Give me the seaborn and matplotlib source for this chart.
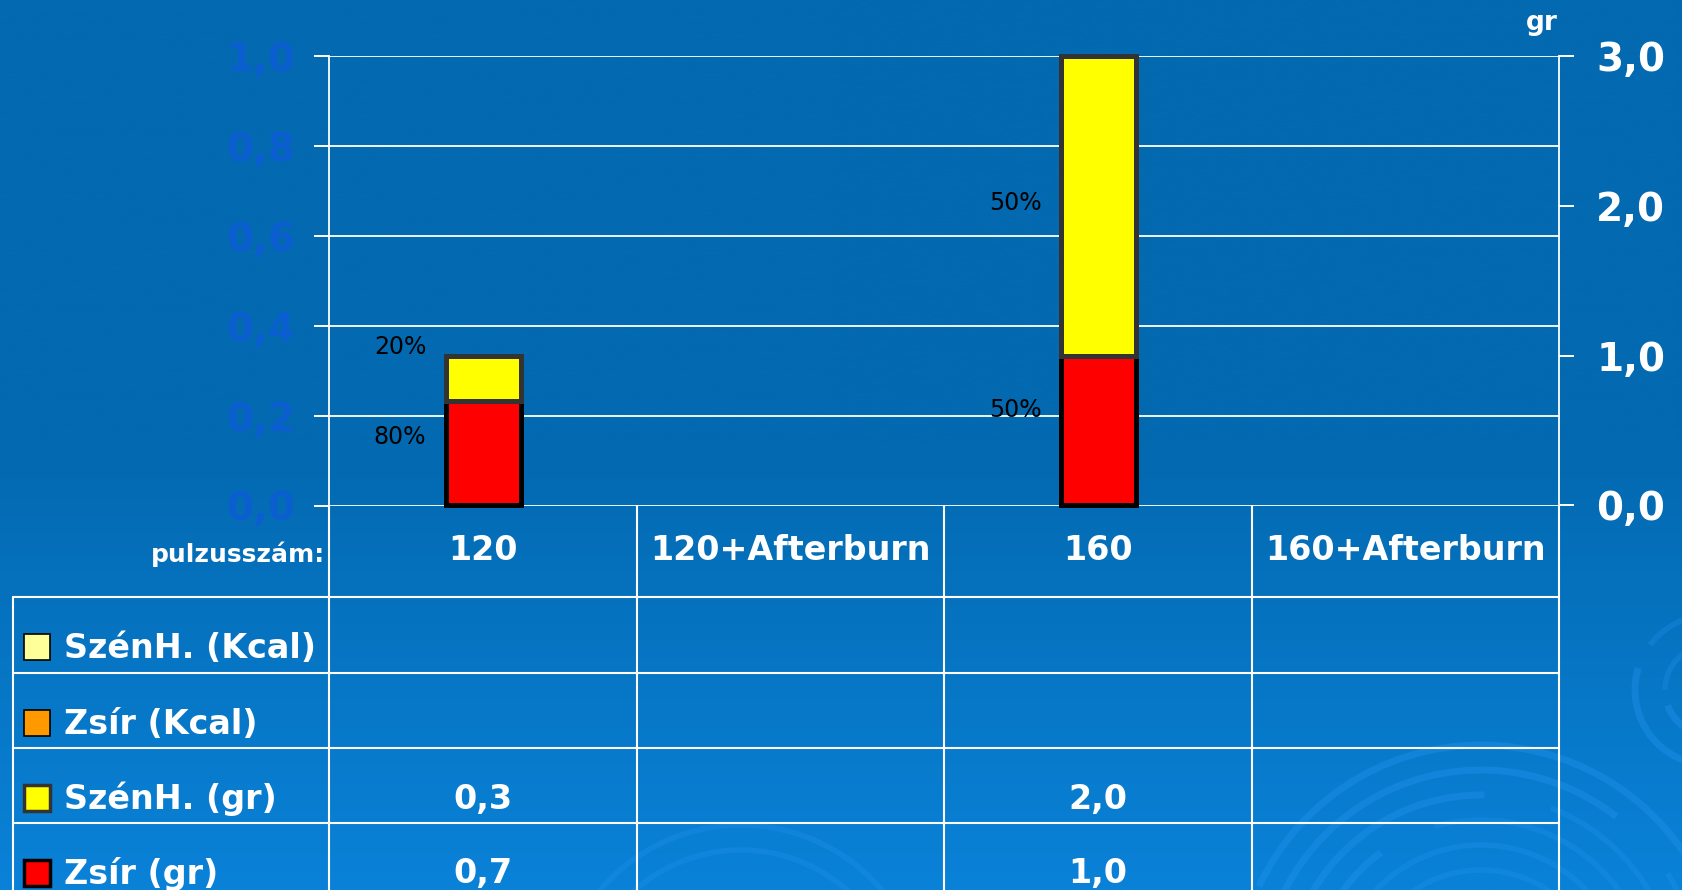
import numpy as np
import pandas as pd
import matplotlib
matplotlib.use("Agg")
import matplotlib.pyplot as plt
from matplotlib.patches import Arc, Rectangle
import seaborn as sns

# data
pulse = ["120", "120+Afterburn", "160", "160+Afterburn"]
fat_gr = [0.7, np.nan, 1.0, np.nan]
carb_gr = [0.3, np.nan, 2.0, np.nan]
fat_pct = ["80%", "", "50%", ""]
carb_pct = ["20%", "", "50%", ""]
fat_pct_y = [0.46, np.nan, 0.64, np.nan]      # where the % labels sit (gr)
carb_pct_y = [1.06, np.nan, 2.02, np.nan]
left_ticks = [0.0, 0.2, 0.4, 0.6, 0.8, 1.0]
right_ticks = [0.0, 1.0, 2.0, 3.0]
row_labels = ["SzénH. (Kcal)", "Zsír (Kcal)", "SzénH. (gr)", "Zsír (gr)"]
row_colors = ["#ffff99", "#ff9900", "#ffff00", "#ff0000"]
row_edges = ["#000000", "#000000", "#333333", "#000000"]

def fmt(v):
    return "" if pd.isna(v) else f"{v:.1f}".replace(".", ",")

row_values = [["", "", "", ""], ["", "", "", ""],
              [fmt(v) for v in carb_gr], [fmt(v) for v in fat_gr]]

df = pd.DataFrame({"pulzus": pulse, "zsir": fat_gr, "szenh": carb_gr})

sns.set_style("white")
plt.rcParams["font.family"] = ["DejaVu Sans"]

W, H = 1683, 890
fig = plt.figure(figsize=(W / 100, H / 100), dpi=100)

# background: blue gradient with faint swirls, also used for the table
bg = fig.add_axes([0, 0, 1, 1])
top = np.array([0x03, 0x69, 0xb0]) / 255
bot = np.array([0x0a, 0x82, 0xd8]) / 255
t = np.clip((np.linspace(0, 1, 400) - 0.5) / 0.5, 0, 1)[:, None]
grad = top * (1 - t) + bot * t
bg.imshow(grad[:, None, :], extent=(0, W, H, 0), aspect="auto")
bg.set_xlim(0, W)
bg.set_ylim(H, 0)
bg.axis("off")

swirl = "#2293ee"
for cx, cy, rads in [(1481, 990, [120, 145, 170, 195, 220, 245]),
                     (741, 1010, [160, 185]),
                     (1710, 690, [45, 75])]:
    for k, r in enumerate(rads):
        t1 = 20 + 37 * k
        bg.add_patch(Arc((cx, cy), 2 * r, 2 * r, theta1=t1, theta2=t1 + 140,
                         color=swirl, lw=5, alpha=0.4))
        bg.add_patch(Arc((cx, cy), 2 * r, 2 * r, theta1=t1 + 160, theta2=t1 + 300,
                         color=swirl, lw=4, alpha=0.3))

# plot area
x0, x1, ytop, ybot = 329.5, 1559.5, 55.8, 505.5
ax = fig.add_axes([x0 / W, 1 - ybot / H, (x1 - x0) / W, (ybot - ytop) / H])
ax.patch.set_alpha(0)
ax.set_ylim(0, 1.0)
ax.set_yticks(left_ticks)
ax.set_yticklabels([f"{v:.1f}".replace(".", ",") for v in left_ticks])
ax.tick_params(axis="y", left=True, length=10.5, width=1.4, color="white",
               pad=14, labelsize=28, labelcolor="#0b5ed0")
for lab in ax.get_yticklabels():
    lab.set_fontweight("bold")
ax.grid(axis="y", color="white", lw=1.3)
ax.set_axisbelow(True)
for s in ["top", "right", "bottom"]:
    ax.spines[s].set_visible(False)
ax.spines["left"].set_color("white")
ax.spines["left"].set_linewidth(1.3)

ax2 = ax.twinx()
ax2.patch.set_alpha(0)
sns.barplot(data=df, x="pulzus", y="zsir", order=pulse, ax=ax2, color="#ff0000",
            saturation=1, width=0.245, edgecolor="#000000", linewidth=3.6,
            errorbar=None, zorder=3, clip_on=False)
sns.barplot(data=df, x="pulzus", y="szenh", order=pulse, ax=ax2, color="#ffff00",
            saturation=1, width=0.245, edgecolor="#333333", linewidth=3.6,
            errorbar=None, zorder=3, clip_on=False,
            bottom=df["zsir"].dropna().to_numpy())
ax2.set_xlim(-0.5, 3.5)
ax2.set_ylim(0, 3.0)
ax2.set_yticks(right_ticks)
ax2.set_yticklabels([f"{v:.1f}".replace(".", ",") for v in right_ticks])
ax2.tick_params(axis="y", right=True, left=False, length=10.5, width=1.4,
                color="white", pad=16, labelsize=28, labelcolor="white")
for lab in ax2.get_yticklabels():
    lab.set_fontweight("bold")
ax2.set_xlabel("")
ax2.set_ylabel("")
ax2.set_xticks([])
ax.set_xticks([])
for s in ["top", "left", "bottom"]:
    ax2.spines[s].set_visible(False)
ax2.spines["right"].set_color("white")
ax2.spines["right"].set_linewidth(1.3)

for i in range(len(pulse)):
    if carb_pct[i]:
        ax2.text(i - 0.185, carb_pct_y[i], carb_pct[i], ha="right", va="center",
                 fontsize=17, color="black")
    if fat_pct[i]:
        ax2.text(i - 0.185, fat_pct_y[i], fat_pct[i], ha="right", va="center",
                 fontsize=17, color="black")

fig.text(1558 / W, 1 - 23 / H, "gr", ha="right", va="center", color="white",
         fontsize=19, fontweight="bold")

# data table under the chart
colw = (x1 - x0) / len(pulse)
rows_y = [597, 673, 748, 823]
lw = 1.5
for k in range(len(pulse) + 1):
    bg.plot([x0 + k * colw] * 2, [ybot, H], color="white", lw=lw)
bg.plot([13, 13], [rows_y[0], H], color="white", lw=lw)
for y in rows_y:
    bg.plot([13, x1], [y, y], color="white", lw=lw)

bg.text(325, 554, "pulzusszám:", ha="right", va="center", color="white",
        fontsize=18, fontweight="bold")
for i, p in enumerate(pulse):
    bg.text(x0 + (i + 0.5) * colw, 551, p, ha="center", va="center",
            color="white", fontsize=24, fontweight="bold")

for r, lab in enumerate(row_labels):
    yc = rows_y[r] + 51
    bg.add_patch(Rectangle((24, yc - 14), 26, 26, facecolor=row_colors[r],
                           edgecolor=row_edges[r], lw=2.5 if r >= 2 else 1.2))
    bg.text(64, yc, lab, ha="left", va="center", color="white",
            fontsize=24, fontweight="bold")
    for i, v in enumerate(row_values[r]):
        if v:
            bg.text(x0 + (i + 0.5) * colw, yc, v, ha="center", va="center",
                    color="white", fontsize=24, fontweight="bold")

fig.savefig("out.png", dpi=100)
